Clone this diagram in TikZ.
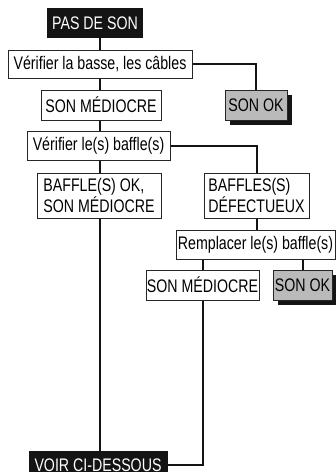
\documentclass[tikz,border=0pt]{standalone}
\usepackage{fontspec}
\setmainfont[FakeStretch=0.78]{Liberation Sans}
\usetikzlibrary{shadows}
\newcommand{\boxfont}{\fontsize{18.2}{16}\selectfont}
\tikzstyle{plain} = [rectangle, draw=black!85, line width=1pt, fill=white, inner sep=0pt, text centered, font=\boxfont]
\tikzstyle{dark} = [rectangle, fill=black!92, text=white, inner sep=0pt, text centered, font=\boxfont]
\tikzstyle{okbox} = [rectangle, draw=black!85, line width=1pt, fill=black!27, inner sep=0pt, text centered, font=\boxfont, drop shadow={shadow xshift=5pt, shadow yshift=-5pt, fill=black!92, opacity=1}]
\tikzstyle{link} = [line width=2pt, black!92]

\begin{document}
\begin{tikzpicture}[x=1pt, y=-1pt]
        \clip (0,0) rectangle (336,472);
        \useasboundingbox (0,0) rectangle (336,472);
        \coordinate (spine) at (100,0);

        \node (start) [dark, minimum width=96, minimum height=30] at (95,23) {PAS DE SON};
        \node (checkbass) [plain, minimum width=184, minimum height=28] at (100,64) {Vérifier la basse, les câbles};
        \node (okone) [okbox, minimum width=62, minimum height=30] at (256,105) {SON OK};
        \node (poorone) [plain, minimum width=120, minimum height=30] at (101,105) {SON MÉDIOCRE};
        \node (checkspk) [plain, minimum width=143, minimum height=29] at (98.5,145.5) {Vérifier le(s) baffle(s)};
        \node (spkok) [plain, minimum width=124, minimum height=45, align=left] at (99,195.5) {BAFFLE(S) OK,\\SON MÉDIOCRE};
        \node (spkbad) [plain, minimum width=105, minimum height=45, align=left] at (256.5,195.5) {BAFFLES(S)\\DÉFECTUEUX};
        \node (replace) [plain, minimum width=159, minimum height=29] at (255.5,244.5) {Remplacer le(s) baffle(s)};
        \node (poortwo) [plain, minimum width=113, minimum height=30] at (202.5,285) {SON MÉDIOCRE};
        \node (oktwo) [okbox, minimum width=59, minimum height=30] at (302.5,285) {SON OK};
        \node (seebelow) [dark, minimum width=139, minimum height=28] at (98,465) {VOIR CI-DESSOUS};

        \draw [link] (start.south -| spine) -- (checkbass.north -| spine);
        \draw [link] (checkbass.east) -| (okone.north);
        \draw [link] (checkbass.south -| spine) -- (poorone.north -| spine);
        \draw [link] (poorone.south -| spine) -- (checkspk.north -| spine);
        \draw [link] (checkspk.south -| spine) -- (spkok.north -| spine);
        \draw [link] (checkspk.east) -| (spkbad.north);
        \draw [link] (spkbad.south) -- (spkbad.south |- replace.north);
        \draw [link] (replace.south -| poortwo.north) -- (poortwo.north);
        \draw [link] (replace.south -| oktwo.north) -- (oktwo.north);
        \draw [link] (spkok.south -| spine) -- (seebelow.north -| spine);
        \draw [link] (poortwo.south) |- (seebelow.east);
\end{tikzpicture}
\end{document}
